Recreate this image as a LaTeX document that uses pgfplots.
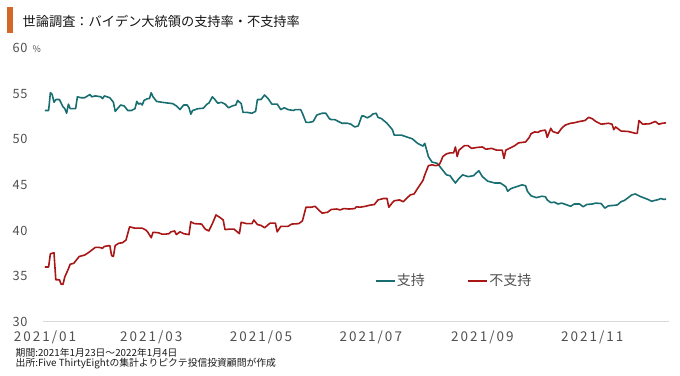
\documentclass[border=0pt]{standalone}
\usepackage{fontspec}
\setmainfont{Noto Sans CJK JP}
\newfontfamily\xtickfont[LetterSpace=15]{Noto Sans CJK JP}
\newfontfamily\ytickfont[LetterSpace=6]{Noto Sans CJK JP}
\usepackage{pgfplots}
\pgfplotsset{compat=1.18}
\definecolor{supcol}{HTML}{186E70}
\definecolor{oppcol}{HTML}{A81616}
\definecolor{barcol}{HTML}{D2692A}
\definecolor{labgray}{HTML}{505050}
\begin{document}
\begin{tikzpicture}[x=1pt,y=1pt]
\begin{axis}[
  at={(43.2pt,53.3pt)}, anchor=south west,
  scale only axis, width=625.5pt, height=273.7pt,
  xmin=-1, xmax=346.5, ymin=30, ymax=60,
  axis x line*=bottom, axis y line*=left,
  x axis line style={draw=black!15, line width=0.8pt, -},
  y axis line style={draw=none},
  major tick length=0pt,
  xtick={0,59,120,181,243,304},
  xticklabels={2021/01,2021/03,2021/05,2021/07,2021/09,2021/11},
  ytick={30,35,...,60}, yticklabels={30,35,40,45,50,55,60},
  xticklabel style={font=\xtickfont\fontsize{13.5}{13.5}\selectfont, text=labgray, anchor=base, inner sep=0pt, yshift=-19.7pt},
  yticklabel style={font=\ytickfont\fontsize{12.8}{12.8}\selectfont, text=labgray, anchor=east, inner sep=0pt, xshift=-15.5pt},
  clip=false,
  legend style={at={(0.5297,0.1498)}, anchor=west, draw=none, fill=none,
    font=\fontsize{14}{14}\selectfont, text=labgray,
    legend columns=2, inner sep=0pt,
    nodes={inner sep=1.5pt},
    /tikz/every even column/.append style={column sep=41pt}},
  legend image code/.code={\draw[#1] (0pt,0pt) -- (19pt,0pt);},
]
\addplot[supcol, line width=1.6pt, line join=round] coordinates {
(0,53.15)(2,53.15)(3,55.1)(4,54.9)(5,54.05)(6,54.35)(8,54.35)(10,53.55)(11,53.35)(12,52.85)(13,53.85)(14,53.35)(17,53.35)(18,54.65)(20,54.55)(22,54.55)(25,54.9)(26,54.65)(28,54.75)(31,54.65)(32,54.45)(33,54.75)(36,54.55)(38,54.05)(39,53.05)(42,53.75)(44,53.65)(46,53.15)(48,53.15)(50,53.35)(51,54.15)(52,53.85)(53,53.95)(54,53.75)(55,54.25)(57,54.45)(58,54.45)(59,55.1)(60,54.65)(62,54.15)(65,54.05)(67,54.0)(69,53.95)(71,53.9)(73,53.65)(75,53.25)(77,53.75)(79,53.75)(80,53.45)(81,52.75)(82,53.15)(85,53.35)(88,53.4)(90,53.85)(91,53.95)(93,54.65)(94,54.45)(96,53.95)(98,54.05)(100,53.85)(102,53.45)(104,53.65)(106,53.75)(107,54.25)(109,53.9)(110,52.95)(112,52.95)(115,52.85)(117,53.05)(118,54.35)(120,54.35)(122,54.85)(124,54.45)(126,53.85)(129,53.85)(130,53.55)(131,53.25)(133,53.45)(135,53.25)(138,53.15)(139,53.25)(142,53.25)(143,52.85)(145,51.85)(147,51.85)(149,51.95)(151,52.65)(154,52.85)(156,52.85)(158,52.25)(159,52.15)(161,52.15)(163,51.95)(165,51.75)(168,51.75)(170,51.65)(172,51.35)(174,51.45)(176,52.55)(177,52.55)(179,52.35)(181,52.55)(182,52.75)(184,52.85)(185,52.4)(187,52.25)(190,51.75)(193,51.05)(194,50.45)(198,50.45)(201,50.25)(204,50.05)(207,49.55)(210,49.25)(211,49.55)(213,48.1)(215,47.5)(218,47.35)(219,47.1)(221,46.6)(223,46.1)(225,46.0)(228,45.2)(230,45.7)(232,46.1)(235,45.9)(238,46.0)(241,46.55)(243,45.9)(246,45.4)(250,45.2)(253,45.2)(256,44.8)(257,44.3)(259,44.6)(262,44.8)(265,45.0)(267,44.9)(268,44.3)(270,43.8)(273,43.6)(276,43.75)(278,43.7)(279,43.35)(281,43.05)(283,43.1)(285,42.9)(287,43.0)(290,42.8)(292,42.65)(294,42.9)(295,42.9)(297,42.9)(299,42.6)(301,42.85)(304,42.9)(306,43.0)(309,42.95)(311,42.45)(313,42.7)(316,42.75)(318,42.8)(320,43.15)(322,43.3)(324,43.6)(326,43.9)(328,44.0)(330,43.8)(331,43.7)(333,43.55)(335,43.4)(337,43.2)(339,43.3)(341,43.4)(342,43.5)(344,43.4)(345,43.45)
};
\addlegendentry{支持}
\addplot[oppcol, line width=1.6pt, line join=round] coordinates {
(0,36.0)(2,36.0)(3,37.45)(5,37.55)(6,34.6)(8,34.6)(9,34.1)(10,34.1)(11,34.9)(13,35.8)(14,36.3)(16,36.4)(18,36.9)(19,37.15)(22,37.3)(24,37.55)(26,37.85)(28,38.15)(30,38.15)(32,38.05)(33,38.25)(36,38.35)(37,37.25)(38,37.15)(39,38.35)(41,38.6)(43,38.65)(45,38.95)(47,40.4)(50,40.25)(52,40.25)(54,40.25)(56,40.05)(57,39.85)(59,39.2)(60,39.8)(63,39.75)(65,39.6)(67,39.6)(69,39.65)(70,39.85)(72,39.95)(73,39.55)(75,39.85)(77,39.65)(80,39.55)(81,40.95)(83,40.75)(87,40.7)(89,40.15)(91,39.95)(93,40.75)(95,41.7)(97,41.45)(99,41.15)(100,40.1)(103,40.15)(105,40.15)(108,39.65)(109,40.9)(112,40.75)(115,40.75)(116,41.15)(118,40.65)(120,40.55)(122,40.3)(125,40.8)(128,40.8)(129,39.85)(131,40.45)(135,40.45)(137,40.7)(141,40.75)(143,41.05)(145,42.55)(148,42.55)(150,42.65)(152,42.25)(154,41.9)(157,42.0)(159,42.3)(162,42.35)(164,42.25)(166,42.4)(169,42.35)(172,42.4)(173,42.6)(175,42.55)(178,42.65)(180,42.75)(183,42.85)(185,43.35)(188,43.5)(190,43.5)(191,42.55)(193,43.05)(194,43.25)(197,43.35)(199,43.15)(201,43.55)(203,43.9)(205,44.0)(206,44.3)(208,44.9)(210,45.5)(211,46.1)(213,47.1)(215,47.2)(217,47.1)(219,47.2)(220,47.6)(221,48.1)(223,48.4)(225,48.5)(227,48.5)(228,49.15)(229,48.1)(230,48.8)(233,49.3)(235,49.3)(237,49.0)(240,49.1)(243,49.15)(245,48.9)(248,49.0)(251,48.8)(254,48.8)(255,47.9)(256,48.8)(258,49.0)(261,49.3)(263,49.6)(267,49.7)(269,50.2)(270,50.6)(272,50.8)(274,50.75)(275,50.9)(278,51.0)(279,50.2)(281,51.2)(282,50.85)(285,50.65)(287,51.2)(289,51.55)(292,51.75)(294,51.8)(297,51.95)(300,52.05)(302,52.4)(304,52.25)(306,51.95)(309,51.65)(313,51.75)(315,51.65)(316,51.05)(317,51.35)(320,50.9)(324,50.85)(328,50.65)(329,50.65)(330,52.05)(332,51.65)(336,51.7)(339,51.95)(341,51.65)(343,51.75)(345,51.8)
};
\addlegendentry{不支持}
\end{axis}
\fill[barcol] (6.7,341.7) rectangle (13.3,367.7);
\node[anchor=west, inner sep=0pt, font=\fontsize{13.2}{13.2}\selectfont, text=black!92] at (22.5,353.5) {世論調査：バイデン大統領の支持率・不支持率};
\node[anchor=west, inner sep=0pt, font=\fontsize{9}{9}\selectfont, text=labgray] at (32.5,326) {\%};
\node[anchor=west, inner sep=0pt, font=\fontsize{9.8}{9.8}\selectfont, text=black!90] at (15.5,22.5) {期間:2021年1月23日～2022年1月4日};
\node[anchor=west, inner sep=0pt, font=\fontsize{9.8}{9.8}\selectfont, text=black!90] at (15.5,11) {出所:Five ThirtyEightの集計よりピクテ投信投資顧問が作成};
\pgfresetboundingbox
\useasboundingbox (0,0) rectangle (680,375);
\end{tikzpicture}
\end{document}
